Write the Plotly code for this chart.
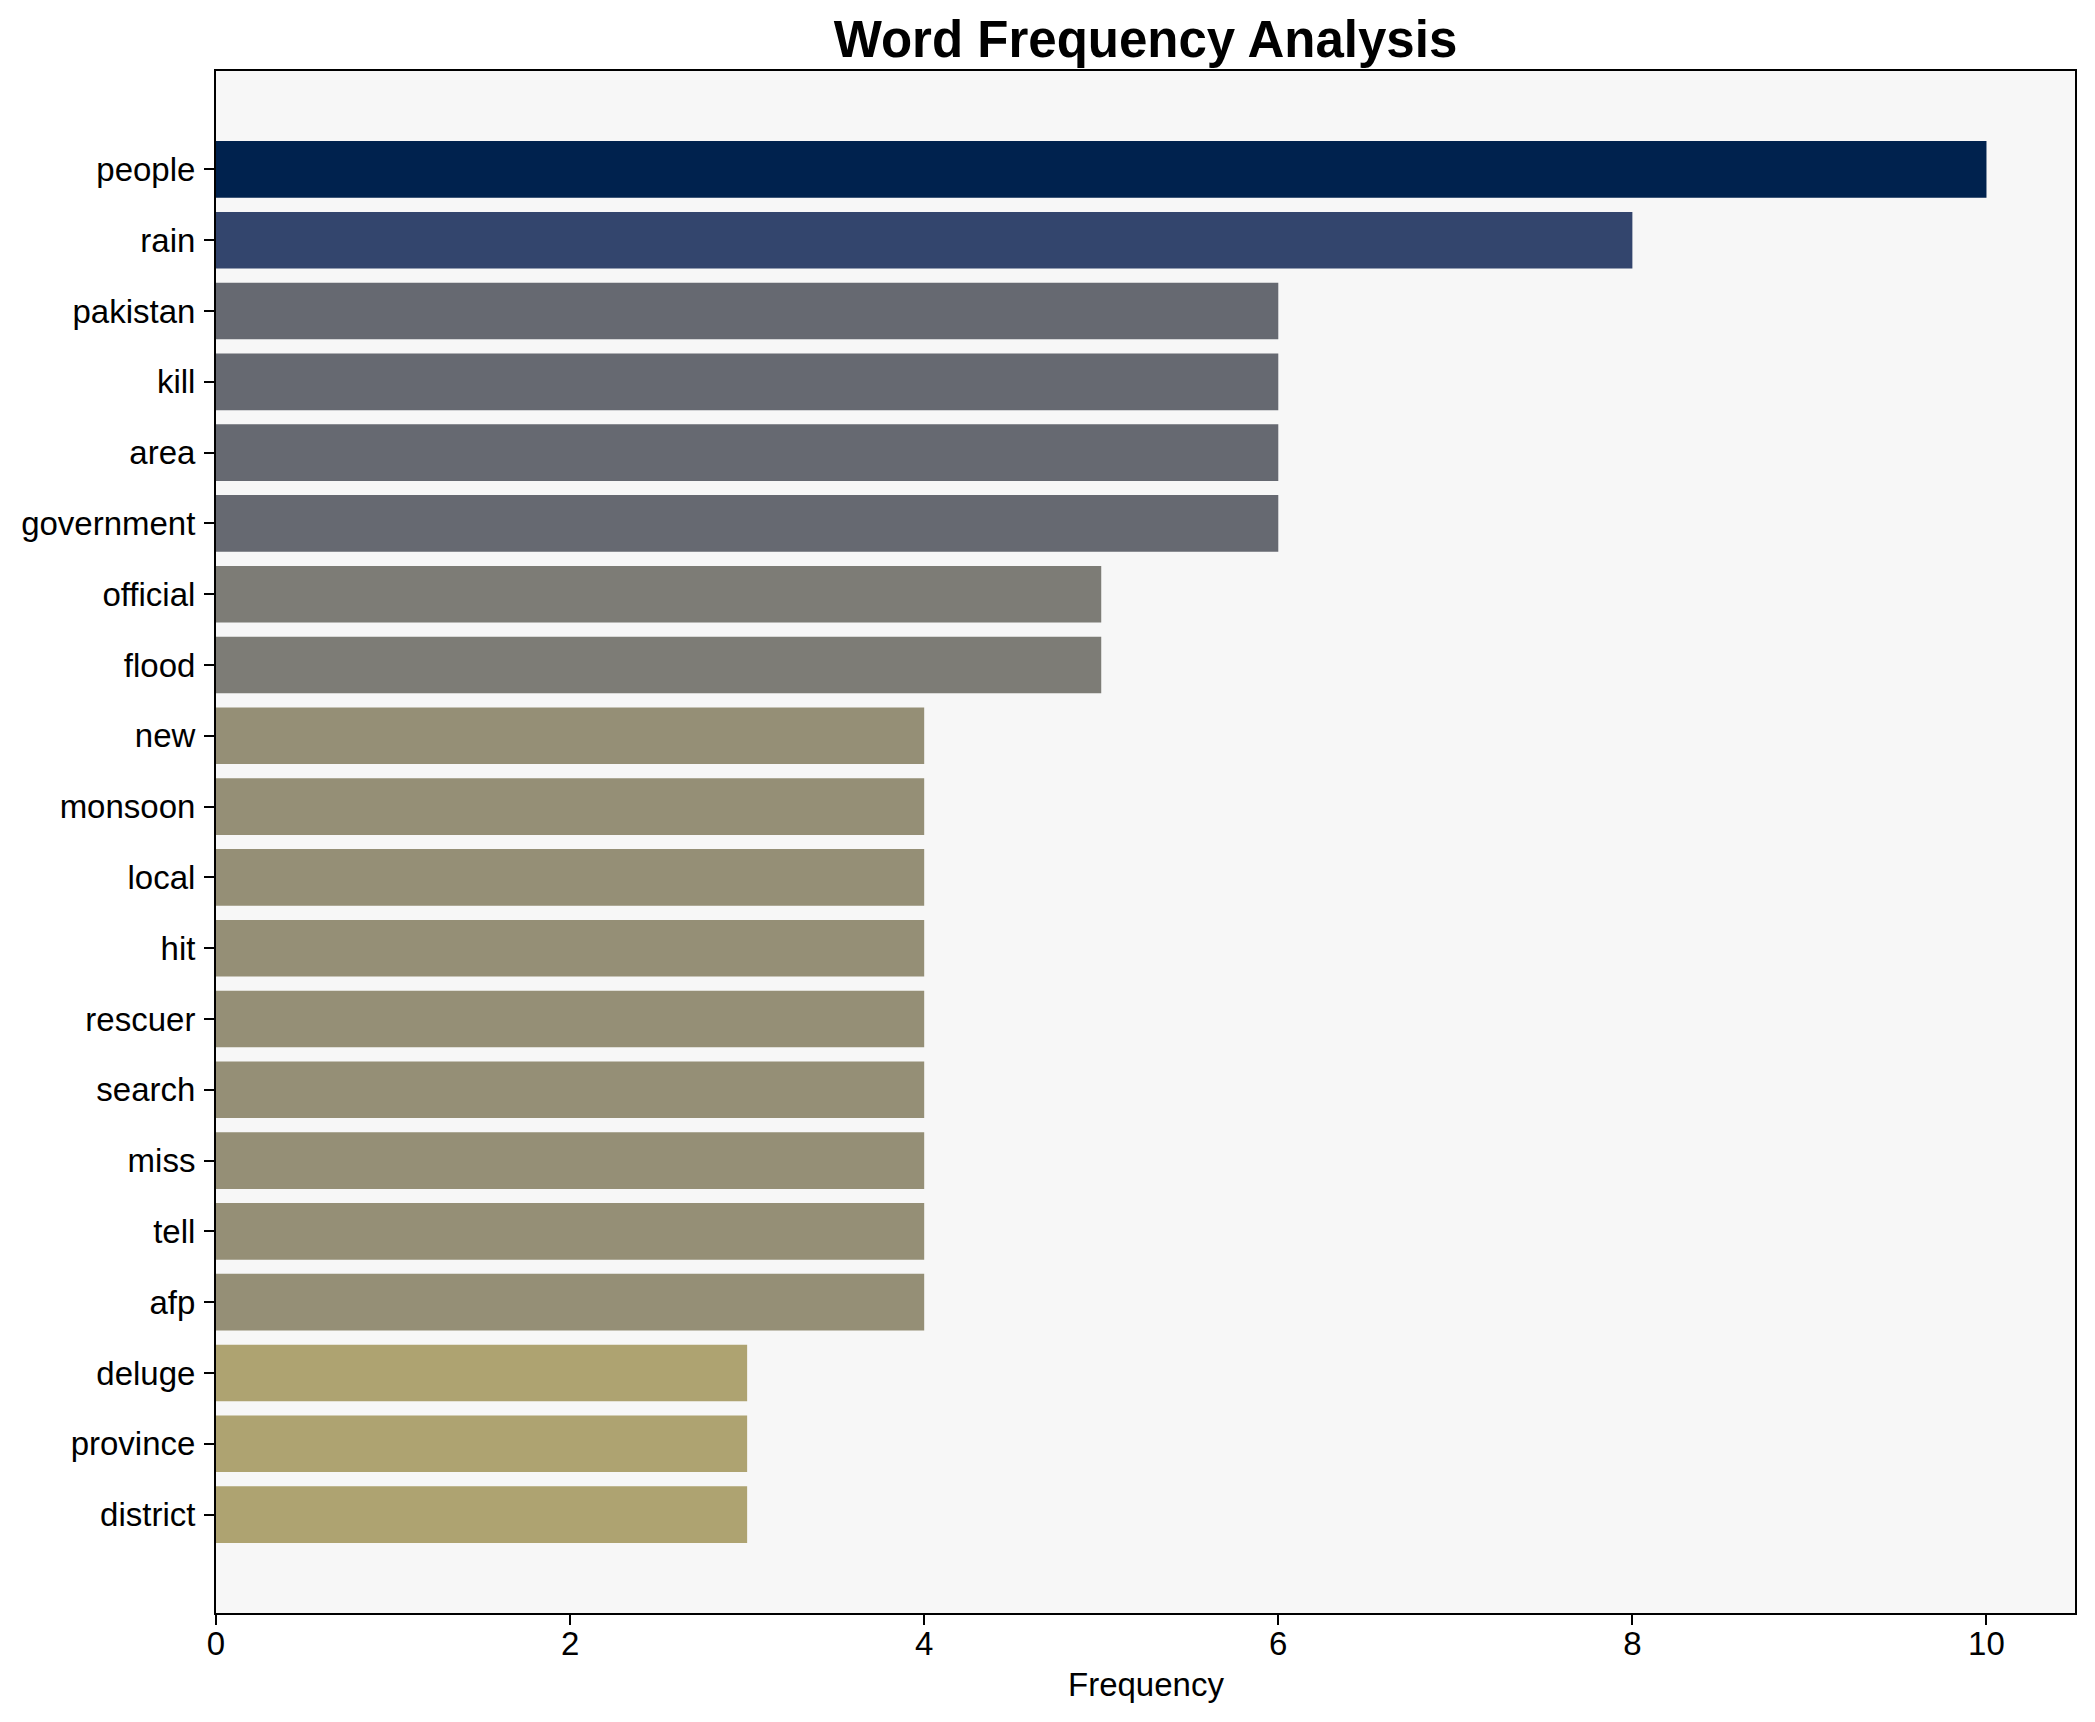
import plotly.graph_objects as go
from plotly.colors import sample_colorscale

words = ["people", "rain", "pakistan", "kill", "area", "government", "official",
         "flood", "new", "monsoon", "local", "hit", "rescuer", "search", "miss",
         "tell", "afp", "deluge", "province", "district"]
counts = [10, 8, 6, 6, 6, 6, 5, 5, 4, 4, 4, 4, 4, 4, 4, 4, 4, 3, 3, 3]

vmax = max(counts)
colors = sample_colorscale("Cividis", [1 - c / vmax for c in counts])

FONT = "Liberation Sans, Arial, Helvetica, sans-serif"

fig = go.Figure(go.Bar(
    x=counts, y=words, orientation="h", width=0.8,
    marker=dict(color=colors, line=dict(width=0)),
))

fig.update_layout(
    width=2095, height=1722,
    margin=dict(l=208, r=28, t=63, b=117),
    paper_bgcolor="white", plot_bgcolor="#F7F7F7",
    font=dict(family=FONT, size=33, color="black"),
    title=dict(text="<b>Word Frequency Analysis</b>", x=0.5, xref="paper",
               xanchor="center", y=1, yref="paper", yanchor="bottom",
               pad=dict(b=14), font=dict(size=51, family=FONT, color="black")),
    showlegend=False, bargap=0.2,
    annotations=[dict(text="Frequency", x=0.5, xref="paper", y=0, yref="paper",
                      xanchor="center", yanchor="middle", yshift=-71,
                      showarrow=False, font=dict(size=33, family=FONT, color="black"))],
)
fig.update_xaxes(
    range=[0, 10.5], tickmode="array", tickvals=[0, 2, 4, 6, 8, 10],
    showgrid=False, zeroline=False,
    showline=True, mirror=True, linecolor="black", linewidth=2,
    ticks="outside", ticklen=10, tickwidth=2, tickcolor="black",
    tickfont=dict(size=33), ticklabelstandoff=-10,
)
fig.update_yaxes(
    type="category", categoryorder="array", categoryarray=words,
    range=[len(words) - 1 + 1.39, -1.39],
    showgrid=False, zeroline=False,
    showline=True, mirror=True, linecolor="black", linewidth=2,
    ticks="outside", ticklen=10, tickwidth=2, tickcolor="black",
    tickfont=dict(size=33), ticklabelstandoff=2,
)

fig.write_html("out.html")
